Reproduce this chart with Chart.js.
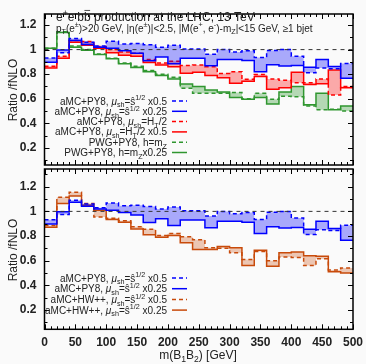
<!DOCTYPE html>
<html>
<head>
<meta charset="utf-8">
<script src="https://cdn.jsdelivr.net/npm/chart.js@4/dist/chart.umd.min.js"></script>
<style>
  body { margin: 0; background: #fafafa; }
  canvas { position: absolute; left: 0; }
</style>
</head>
<body>
<canvas id="topChart" width="366" height="167" style="top:0"></canvas>
<canvas id="bottomChart" width="366" height="197" style="top:167px"></canvas>
<script>
// bin lower edges (GeV), last edge closes the histogram
const binLo = [0, 20, 40, 60, 80, 100, 120, 140, 160, 180, 200, 220, 240, 260, 280, 300, 320, 340, 360, 380, 400, 420, 440, 460, 480];
const xMax = 500;
const xTickVals = [0, 50, 100, 150, 200, 250, 300, 350, 400, 450, 500];
const yTickVals = [0.2, 0.4, 0.6, 0.8, 1, 1.2];

// aMC+PY8, mu_sh = sqrt(s)  x0.5 (dashed) / x0.25 (solid)
const pyS05  = [0.932, 0.975, 1.09, 1.06, 1.03, 1.068, 1.045, 1.05, 1.04, 1.02, 1.035, 1.005, 1.005, 0.962, 1.0, 0.98, 0.99, 0.935, 0.993, 1.0, 0.946, 0.812, 0.85, 0.845, 0.887];
const pyS025 = [0.897, 0.997, 1.075, 1.042, 1.02, 1.01, 0.99, 0.97, 0.91, 0.94, 0.885, 0.93, 0.93, 0.868, 0.92, 0.92, 0.912, 0.82, 0.876, 0.866, 0.87, 0.856, 0.92, 0.862, 0.766];
// aMC+PY8, mu_sh = HT/2 (dashed) / HT/2 x0.5 (solid)
const pyHT2  = [0.865, 0.945, 1.075, 1.065, 1.025, 1.0, 0.98, 0.97, 0.92, 0.89, 0.905, 0.87, 0.874, 0.86, 0.806, 0.82, 0.758, 0.797, 0.76, 0.75, 0.73, 0.73, 0.76, 0.63, 0.70];
const pyHT05 = [0.85, 0.93, 1.06, 1.035, 1.01, 0.975, 0.955, 0.945, 0.895, 0.875, 0.86, 0.808, 0.815, 0.79, 0.77, 0.725, 0.742, 0.78, 0.678, 0.69, 0.815, 0.715, 0.722, 0.833, 0.69];
// PWG+PY8, h = mZ (dashed) / mZ x0.25 (solid)
const pwgMz   = [1.01, 1.145, 1.03, 1.0, 0.965, 0.93, 0.89, 0.865, 0.83, 0.80, 0.775, 0.685, 0.645, 0.645, 0.645, 0.65, 0.60, 0.645, 0.595, 0.62, 0.615, 0.54, 0.51, 0.515, 0.50];
const pwgMz025 = [1.01, 1.14, 1.02, 0.995, 0.96, 0.925, 0.885, 0.855, 0.82, 0.79, 0.76, 0.72, 0.70, 0.67, 0.655, 0.61, 0.595, 0.61, 0.557, 0.655, 0.70, 0.55, 0.645, 0.51, 0.54];
// aMC+HW++, mu_sh = sqrt(s) x0.5 (dashed) / x0.25 (solid)
const hwS05  = [0.885, 1.115, 1.155, 1.065, 0.955, 0.945, 0.925, 0.875, 0.855, 0.805, 0.82, 0.795, 0.77, 0.705, 0.70, 0.665, 0.61, 0.675, 0.60, 0.63, 0.625, 0.56, 0.615, 0.525, 0.54];
const hwS025 = [0.872, 1.065, 1.125, 1.05, 1.01, 0.935, 0.912, 0.858, 0.81, 0.79, 0.805, 0.745, 0.69, 0.69, 0.715, 0.705, 0.56, 0.685, 0.555, 0.665, 0.67, 0.64, 0.635, 0.51, 0.50];
const refLine = [1, 1];

const FONT = '"Liberation Sans", Arial, sans-serif';
const BLUE = '#0000ff', RED = '#ff0000', GREEN = '#2f962f', ORANGE = '#c84a0a';

function toSteps(vals) {
    const pts = vals.map((v, i) => ({x: binLo[i], y: v}));
    pts.push({x: xMax, y: vals[vals.length - 1]});
    return pts;
}

function histSet(label, vals, color, dashed, fillColor) {
    return {
        label: label,
        data: toSteps(vals),
        stepped: true,
        borderColor: color,
        borderWidth: 1.5,
        borderDash: dashed ? [4, 3] : [],
        pointRadius: 0,
        fill: fillColor ? '-1' : false,
        backgroundColor: fillColor || 'transparent'
    };
}

function refSet() {
    return {
        label: 'ref',
        data: [{x: 0, y: refLine[0]}, {x: xMax, y: refLine[1]}],
        borderColor: '#333',
        borderWidth: 1,
        borderDash: [4, 4],
        pointRadius: 0,
        fill: false
    };
}

// draw a list of text pieces with sub/superscripts
function drawRich(ctx, segs, x, baseline, size, align) {
    const fontFor = s => (s.it ? 'italic ' : '') + ((s.sub || s.sup) ? size * 0.72 : size) + 'px ' + FONT;
    let w = 0;
    for (const s of segs) { ctx.font = fontFor(s); w += ctx.measureText(s.t).width; }
    let cx = align === 'right' ? x - w : (align === 'center' ? x - w / 2 : x);
    ctx.textAlign = 'left';
    ctx.textBaseline = 'alphabetic';
    for (const s of segs) {
        ctx.font = fontFor(s);
        let dy = 0;
        if (s.sub) dy = size * 0.28;
        if (s.sup) dy = -size * 0.42;
        ctx.fillText(s.t, cx, baseline + dy);
        const sw = ctx.measureText(s.t).width;
        if (s.bar) {
            ctx.save();
            ctx.strokeStyle = ctx.fillStyle;
            ctx.lineWidth = 0.8;
            ctx.beginPath();
            ctx.moveTo(cx + 0.5, baseline - size * 0.88);
            ctx.lineTo(cx + sw - 0.5, baseline - size * 0.88);
            ctx.stroke();
            ctx.restore();
        }
        cx += sw;
    }
}

const muS = [{t: 'μ', it: true}, {t: 'sh', sub: true}, {t: '=ŝ'}, {t: '1/2', sup: true}];
const topLegend = [
    {segs: [{t: 'aMC+PY8, '}, ...muS, {t: ' x0.5'}], ds: 1},
    {segs: [{t: 'aMC+PY8, '}, ...muS, {t: ' x0.25'}], ds: 2},
    {segs: [{t: 'aMC+PY8, '}, {t: 'μ', it: true}, {t: 'sh', sub: true}, {t: '=H'}, {t: 'T', sub: true}, {t: '/2'}], ds: 3},
    {segs: [{t: 'aMC+PY8, '}, {t: 'μ', it: true}, {t: 'sh', sub: true}, {t: '=H'}, {t: 'T', sub: true}, {t: '/2 x0.5'}], ds: 4},
    {segs: [{t: 'PWG+PY8, h=m'}, {t: 'Z', sub: true}], ds: 5},
    {segs: [{t: 'PWG+PY8, h=m'}, {t: 'Z', sub: true}, {t: 'x0.25'}], ds: 6}
];
const bottomLegend = [
    {segs: [{t: 'aMC+PY8, '}, ...muS, {t: ' x0.5'}], ds: 1},
    {segs: [{t: 'aMC+PY8, '}, ...muS, {t: ' x0.25'}], ds: 2},
    {segs: [{t: 'aMC+HW++, '}, ...muS, {t: ' x0.5'}], ds: 3},
    {segs: [{t: 'aMC+HW++, '}, ...muS, {t: ' x0.25'}], ds: 4}
];

function legendPlugin(entries, yStart, yGap) {
    return {
        id: 'richLegend',
        afterDraw(chart) {
            const ctx = chart.ctx;
            ctx.save();
            entries.forEach((e, i) => {
                const y = yStart + i * yGap;
                ctx.fillStyle = '#222';
                drawRich(ctx, e.segs, 167, y + 3.5, 10, 'right');
                const ds = chart.data.datasets[e.ds];
                ctx.strokeStyle = ds.borderColor;
                ctx.lineWidth = 1.5;
                ctx.setLineDash(ds.borderDash);
                ctx.beginPath();
                ctx.moveTo(172, y);
                ctx.lineTo(187, y);
                ctx.stroke();
                ctx.setLineDash([]);
            });
            ctx.restore();
        }
    };
}

const frameTicks = {
    id: 'frameTicks',
    afterDatasetsDraw(chart) {
        const {ctx, chartArea: a, scales: {x, y}} = chart;
        ctx.save();
        ctx.strokeStyle = '#000';
        ctx.lineWidth = 1;
        ctx.beginPath();
        for (let v = 0; v <= xMax; v += 10) {
            const px = Math.round(x.getPixelForValue(v)) + 0.5;
            const len = v % 50 === 0 ? 5 : 3;
            ctx.moveTo(px, a.bottom); ctx.lineTo(px, a.bottom - len);
            ctx.moveTo(px, a.top); ctx.lineTo(px, a.top + len);
        }
        for (let k = Math.ceil(y.min * 10); k <= Math.floor(y.max * 10); k++) {
            const py = Math.round(y.getPixelForValue(k / 10)) + 0.5;
            const len = k % 2 === 0 ? 5 : 3;
            ctx.moveTo(a.left, py); ctx.lineTo(a.left + len, py);
            ctx.moveTo(a.right, py); ctx.lineTo(a.right - len, py);
        }
        ctx.stroke();
        ctx.lineWidth = 1.5;
        ctx.strokeRect(a.left, a.top, a.right - a.left, a.bottom - a.top);
        ctx.restore();
    }
};

function yTitle(centerY) {
    return {
        id: 'yTitle',
        afterDraw(chart) {
            const ctx = chart.ctx;
            ctx.save();
            ctx.translate(14, centerY);
            ctx.rotate(-Math.PI / 2);
            ctx.fillStyle = '#222';
            ctx.font = '12px ' + FONT;
            ctx.textAlign = 'center';
            ctx.textBaseline = 'middle';
            ctx.fillText('Ratio /fNLO', 0, 0);
            ctx.restore();
        }
    };
}

const topTitle = {
    id: 'topTitle',
    afterDraw(chart) {
        const ctx = chart.ctx;
        ctx.save();
        ctx.fillStyle = '#222';
        drawRich(ctx, [{t: 'e'}, {t: '+', sup: true}, {t: 'e'}, {t: '-', sup: true}, {t: 'b'}, {t: 'b', bar: true},
            {t: ' production at the LHC, 13 TeV'}], 56, 21, 12, 'left');
        drawRich(ctx, [{t: 'p'}, {t: 'T', sub: true}, {t: '(e'}, {t: '±', sup: true}, {t: ')>20 GeV, |η(e'},
            {t: '±', sup: true}, {t: ')|<2.5, |M(e'}, {t: '+', sup: true}, {t: ', e'}, {t: '-', sup: true},
            {t: ')-m'}, {t: 'Z', sub: true}, {t: '|<15 GeV, ≥1 bjet'}], 56, 31.5, 10, 'left');
        ctx.restore();
    }
};

const xTitle = {
    id: 'xTitle',
    afterDraw(chart) {
        const ctx = chart.ctx;
        ctx.save();
        ctx.fillStyle = '#222';
        drawRich(ctx, [{t: 'm(B'}, {t: '1', sub: true}, {t: 'B'}, {t: '2', sub: true}, {t: ') [GeV]'}], 198, 192, 12, 'center');
        ctx.restore();
    }
};

const yFmt = v => String(Math.round(v * 10) / 10);

function yScale(min, max) {
    return {
        min: min, max: max,
        grid: {display: false, drawTicks: false},
        border: {display: false},
        ticks: {font: {family: FONT, size: 12, weight: 'bold'}, color: '#222', padding: 8, callback: yFmt},
        afterBuildTicks: s => { s.ticks = yTickVals.map(v => ({value: v})); },
        afterFit: s => { s.width = 44.5; s.paddingTop = 0; s.paddingBottom = 0; }
    };
}

new Chart(document.getElementById('topChart'), {
    type: 'line',
    data: {
        datasets: [
            refSet(),
            histSet('aMC+PY8 s x0.5', pyS05, BLUE, true),
            histSet('aMC+PY8 s x0.25', pyS025, BLUE, false, 'rgba(0,0,255,0.32)'),
            histSet('aMC+PY8 HT/2', pyHT2, RED, true),
            histSet('aMC+PY8 HT/2 x0.5', pyHT05, RED, false, 'rgba(255,0,0,0.32)'),
            histSet('PWG+PY8 mZ', pwgMz, GREEN, true),
            histSet('PWG+PY8 mZ x0.25', pwgMz025, GREEN, false, 'rgba(40,150,40,0.33)')
        ]
    },
    options: {
        responsive: false,
        animation: false,
        layout: {padding: {left: 0, right: 13, top: 14, bottom: 2}},
        plugins: {legend: {display: false}, tooltip: {enabled: false}},
        scales: {
            x: {type: 'linear', min: 0, max: xMax, display: false},
            y: yScale(0.06, 1.29)
        }
    },
    plugins: [frameTicks, legendPlugin(topLegend, 101, 10.3), yTitle(90), topTitle]
});

new Chart(document.getElementById('bottomChart'), {
    type: 'line',
    data: {
        datasets: [
            refSet(),
            histSet('aMC+PY8 s x0.5', pyS05, BLUE, true),
            histSet('aMC+PY8 s x0.25', pyS025, BLUE, false, 'rgba(0,0,255,0.32)'),
            histSet('aMC+HW++ s x0.5', hwS05, ORANGE, true),
            histSet('aMC+HW++ s x0.25', hwS025, ORANGE, false, 'rgba(205,80,15,0.3)')
        ]
    },
    options: {
        responsive: false,
        animation: false,
        layout: {padding: {left: 0, right: 13, top: 2, bottom: 0}},
        plugins: {legend: {display: false}, tooltip: {enabled: false}},
        scales: {
            x: {
                type: 'linear', min: 0, max: xMax,
                grid: {display: false, drawTicks: false},
                border: {display: false},
                ticks: {font: {family: FONT, size: 12, weight: 'bold'}, color: '#222', padding: 6, maxRotation: 0},
                afterBuildTicks: s => { s.ticks = xTickVals.map(v => ({value: v})); },
                afterFit: s => { s.height = 34.7; s.paddingLeft = 0; s.paddingRight = 0; }
            },
            y: yScale(0.043, 1.344)
        }
    },
    plugins: [frameTicks, legendPlugin(bottomLegend, 111, 10.7), yTitle(83), xTitle]
});
</script>
</body>
</html>
